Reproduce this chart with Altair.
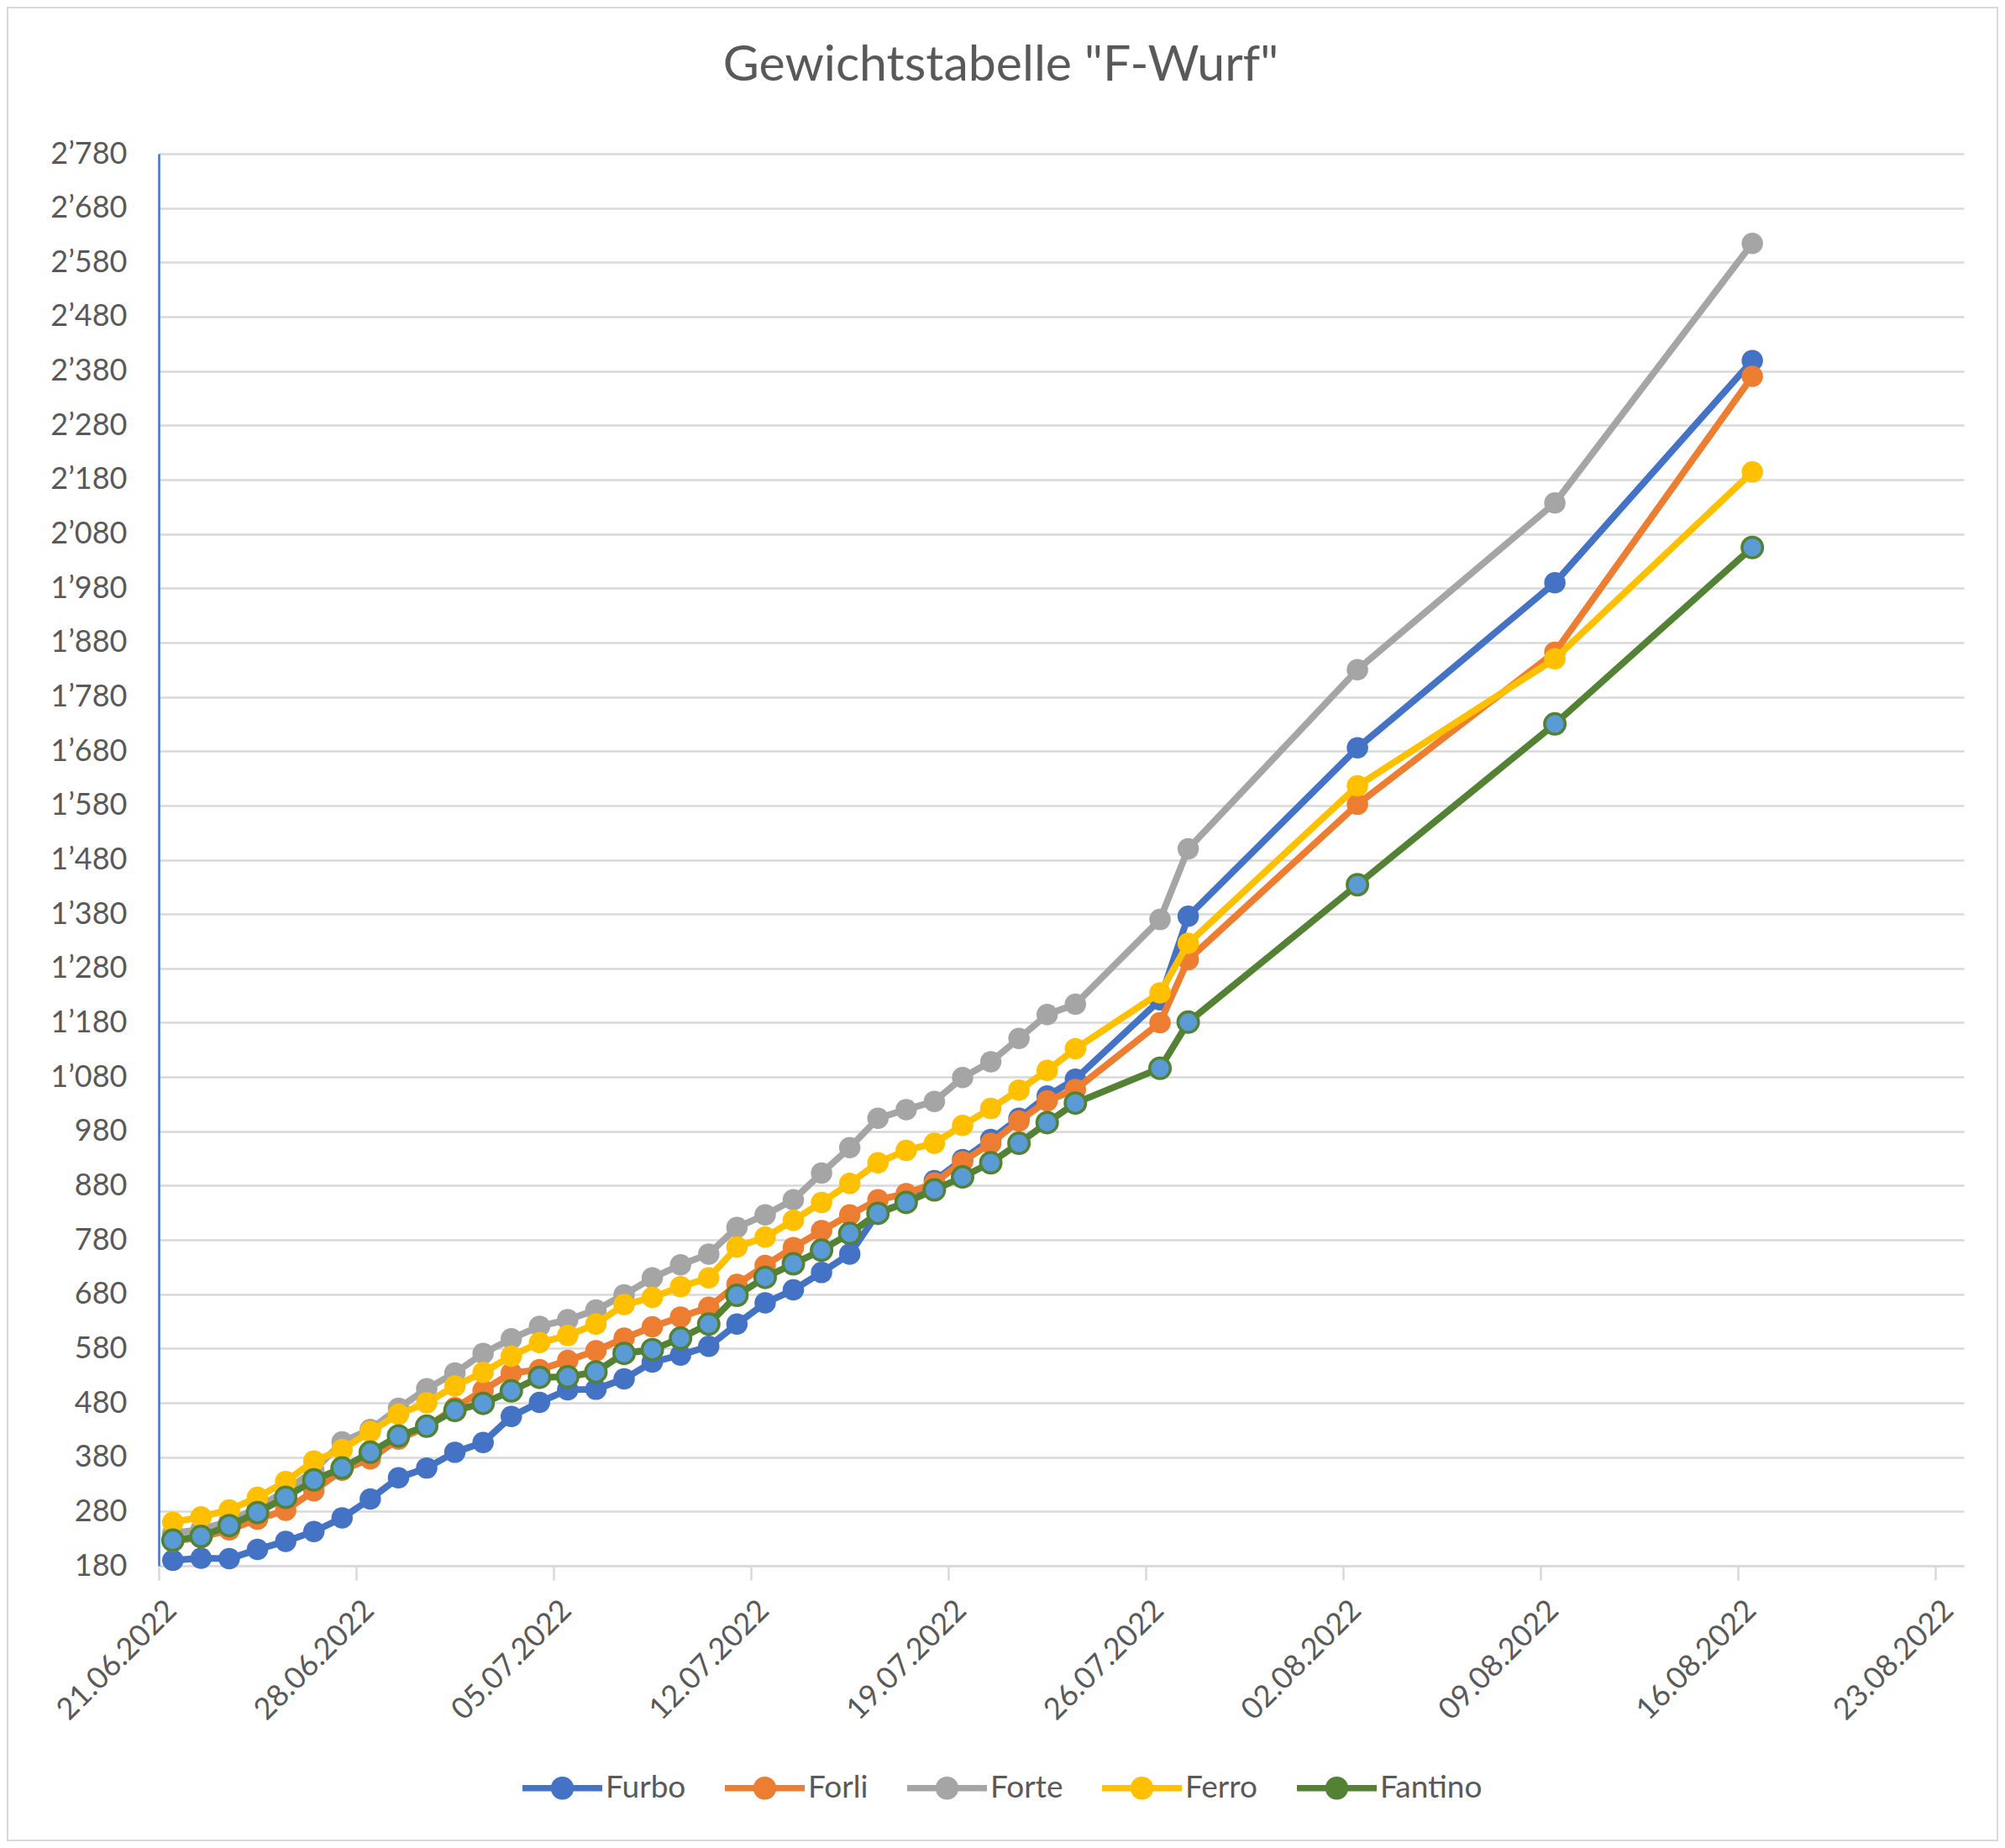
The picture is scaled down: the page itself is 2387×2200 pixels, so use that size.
import altair as alt
import pandas as pd

# ---- data ----
dates = [
    "2022-06-21", "2022-06-22", "2022-06-23", "2022-06-24", "2022-06-25", "2022-06-26",
    "2022-06-27", "2022-06-28", "2022-06-29", "2022-06-30", "2022-07-01", "2022-07-02",
    "2022-07-03", "2022-07-04", "2022-07-05", "2022-07-06", "2022-07-07", "2022-07-08",
    "2022-07-09", "2022-07-10", "2022-07-11", "2022-07-12", "2022-07-13", "2022-07-14",
    "2022-07-15", "2022-07-16", "2022-07-17", "2022-07-18", "2022-07-19", "2022-07-20",
    "2022-07-21", "2022-07-22", "2022-07-23", "2022-07-26", "2022-07-27", "2022-08-02",
    "2022-08-09", "2022-08-16",
]
furbo = [190, 194, 193, 210, 225, 243, 268, 303, 342, 360, 389, 407, 455, 481, 504, 505,
         524, 555, 568, 584, 625, 664, 688, 720, 754, 830, 849, 889, 928, 965, 1004, 1045,
         1076, 1222, 1376, 1686, 1990, 2399]
forli = [225, 232, 246, 266, 282, 318, 356, 377, 413, 436, 471, 503, 535, 541, 558, 576,
         599, 620, 638, 656, 698, 733, 766, 797, 826, 854, 865, 885, 924, 958, 999, 1036,
         1057, 1180, 1296, 1582, 1862, 2370]
forte = [240, 247, 262, 287, 318, 355, 408, 431, 470, 506, 535, 571, 598, 621, 633, 651,
         679, 710, 734, 754, 803, 826, 854, 903, 950, 1004, 1020, 1035, 1079, 1108, 1151, 1195,
         1214, 1370, 1500, 1830, 2137, 2615]
ferro = [260, 270, 283, 306, 335, 373, 394, 427, 459, 480, 511, 536, 566, 591, 604, 625,
         661, 674, 694, 710, 767, 785, 816, 849, 884, 922, 945, 958, 991, 1022, 1056, 1092,
         1132, 1235, 1326, 1616, 1850, 2194]
fantino = [227, 234, 254, 278, 306, 338, 360, 389, 419, 437, 466, 479, 502, 527, 528, 537,
           571, 578, 599, 625, 678, 711, 736, 761, 792, 829, 849, 872, 896, 922, 958, 996,
           1032, 1096, 1181, 1434, 1730, 2055]

series = ["Furbo", "Forli", "Forte", "Ferro", "Fantino"]
line_colors = ["#4472C4", "#ED7D31", "#A5A5A5", "#FFC000", "#548235"]
marker_fills = ["#4472C4", "#ED7D31", "#A5A5A5", "#FFC000", "#5B9BD5"]

y_ticks = [180, 280, 380, 480, 580, 680, 780, 880, 980, 1080, 1180, 1280, 1380, 1480,
           1580, 1680, 1780, 1880, 1980, 2080, 2180, 2280, 2380, 2480, 2580, 2680, 2780]
x_ticks = [(6, 21), (6, 28), (7, 5), (7, 12), (7, 19), (7, 26), (8, 2), (8, 9), (8, 16), (8, 23)]

# ---- long table ----
rows = []
for name, vals in zip(series, [furbo, forli, forte, ferro, fantino]):
    for d, v in zip(dates, vals):
        # Excel date axis centres each day's point in the middle of the day
        rows.append({"series": name,
                     "date": pd.Timestamp(d) + pd.Timedelta(hours=12),
                     "weight": v})
df = pd.DataFrame(rows)

FONT = "Lato"
TXT = "#595959"
GRID = "#D9D9D9"

x_enc = alt.X(
    "date:T",
    scale=alt.Scale(domain=[alt.DateTime(year=2022, month=6, date=21),
                            alt.DateTime(year=2022, month=8, date=24)]),
    axis=alt.Axis(
        values=[alt.DateTime(year=2022, month=m, date=d) for m, d in x_ticks],
        format="%d.%m.%Y", labelAngle=-45, labelAlign="right", labelBaseline="middle",
        labelOffset=15, labelPadding=30, labelFlush=False, labelOverlap=False,
        labelLimit=500,
        tickSize=17, tickColor=GRID, tickWidth=2.5, domainColor=GRID, domainWidth=2.5,
        grid=False, title=None),
)
y_enc = alt.Y(
    "weight:Q",
    scale=alt.Scale(domain=[180, 2780], nice=False, zero=False),
    axis=alt.Axis(
        values=y_ticks, labelExpr="replace(format(datum.value, ','), ',', '\u2019')",
        ticks=False, labelPadding=38, labelFlush=False, labelOverlap=False, labelLimit=500,
        domainColor="#4472C4", domainWidth=2.5, gridColor=GRID, gridWidth=2.5, title=None),
)

# legend symbol: a bar with a dot in the middle (filled outline, unit box -1..1)
legend_path = ("M-1,-0.08L1,-0.08L1,0.08L-1,0.08Z"
               "M-0.29,0A0.29,0.29,0,1,1,0.29,0A0.29,0.29,0,1,1,-0.29,0Z")
legend = alt.Legend(
    title=None, orient="none", legendX=433, legendY=1898, direction="horizontal",
    symbolType=legend_path, symbolSize=9025, symbolStrokeWidth=0, symbolOpacity=1,
    labelFont=FONT, labelFontSize=37, labelColor=TXT, labelOffset=4, columnPadding=46,
    labelLimit=500,
)
color_enc = alt.Color("series:N", scale=alt.Scale(domain=series, range=line_colors),
                      legend=legend)

frame = alt.Chart(pd.DataFrame({"frame": [0]})).mark_rect(
    fill="white", fillOpacity=0, stroke=GRID, strokeWidth=2
).encode(x=alt.value(-180), x2=alt.value(2189), y=alt.value(-174), y2=alt.value(2008))

layers = [frame]
base = alt.Chart(df)
for name, lc, mf in zip(series, line_colors, marker_fills):
    sub = base.transform_filter(alt.datum.series == name)
    layers.append(sub.mark_line(strokeWidth=8, strokeJoin="round", color=lc).encode(
        x=x_enc, y=y_enc))
    if name == "Fantino":
        pts = sub.mark_point(shape="circle", filled=True, size=600, fill=mf,
                             stroke=lc, strokeWidth=3.5, opacity=1).encode(x=x_enc, y=y_enc)
    else:
        pts = sub.mark_point(shape="circle", filled=True, size=650, opacity=1,
                             strokeWidth=0).encode(x=x_enc, y=y_enc, color=color_enc)
    layers.append(pts)

chart = alt.layer(*layers).properties(
    width=2149, height=1681, padding=0, background="white",
    title=alt.TitleParams(text='Gewichtstabelle "F-Wurf"', font=FONT, fontSize=59,
                          fontWeight="normal", color=TXT, anchor="middle",
                          offset=0, dx=-72, dy=100),
).configure_view(strokeWidth=0).configure_axis(
    labelFont=FONT, labelFontSize=36, labelColor=TXT)

chart.save("out.html", embed_options={"renderer": "svg", "actions": False})
